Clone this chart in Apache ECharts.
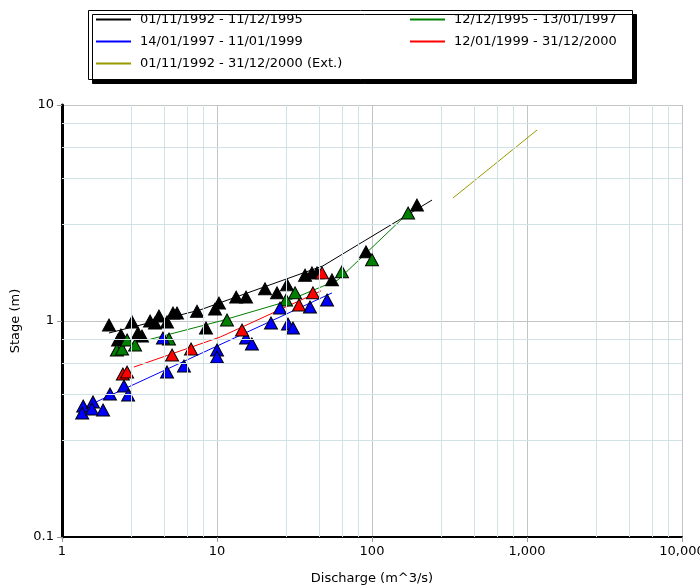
<!DOCTYPE html>
<html>
<head>
<meta charset="utf-8">
<script src="https://cdn.jsdelivr.net/npm/echarts@6/dist/echarts.min.js"></script>
<style>
  html, body { margin: 0; padding: 0; background: #fff; }
  #chart { width: 700px; height: 585px; }
</style>
</head>
<body>
<div id="chart"></div>
<script>
// period names
var periods = [
    '01/11/1992 - 11/12/1995',
    '12/12/1995 - 13/01/1997',
    '14/01/1997 - 11/01/1999',
    '12/01/1999 - 31/12/2000',
    '01/11/1992 - 31/12/2000 (Ext.)'
];

// gaugings: discharge (m^3/s) / stage (m)
var blackQ = [2.01, 2.30, 2.40, 2.83, 3.09, 3.28, 3.70, 3.98, 4.22, 4.76, 5.2, 5.52, 7.43, 8.49, 9.71, 10.3, 13.3, 15.4, 20.4, 24.4, 28.3, 37, 41, 44.2, 55.2, 91.5, 195];
var blackH = [0.958, 0.817, 0.861, 0.99, 0.88, 0.852, 1.0, 0.979, 1.055, 0.99, 1.089, 1.089, 1.11, 0.928, 1.137, 1.21, 1.29, 1.29, 1.41, 1.35, 1.47, 1.63, 1.67, 1.67, 1.55, 2.09, 3.44];
var greenQ = [2.26, 2.44, 2.63, 2.96, 4.9, 11.6, 27.9, 31.9, 64, 100, 171];
var greenH = [0.734, 0.742, 0.817, 0.774, 0.825, 1.01, 1.25, 1.35, 1.69, 1.92, 3.16];
var blueQ = [1.37, 1.35, 1.585, 1.56, 1.84, 2.04, 2.51, 2.67, 4.48, 4.76, 6.12, 10, 10, 15.4, 16.8, 22.3, 25.5, 28.7, 30.9, 39.8, 51.3];
var blueH = [0.404, 0.375, 0.422, 0.391, 0.387, 0.459, 0.5, 0.454, 0.834, 0.581, 0.619, 0.734, 0.681, 0.834, 0.783, 0.979, 1.149, 0.968, 0.928, 1.161, 1.25];
var redQ = [2.47, 2.63, 5.13, 6.8, 14.5, 33.8, 41.6, 47.6];
var redH = [0.568, 0.580, 0.696, 0.742, 0.909, 1.186, 1.35, 1.67];

// rating curves
var blackLineQ = [2.01, 7.77, 48.3, 244];
var blackLineH = [0.88, 1.125, 1.8, 3.63];
var greenLineQ = [3.19, 10.5, 27.5, 60.4, 171];
var greenLineH = [0.8, 1.0, 1.225, 1.55, 3.16];
var blueLineQ = [1.66, 55.2];
var blueLineH = [0.422, 1.349];
var redLineQ = [2.91, 10.5, 47];
var redLineH = [0.612, 0.843, 1.38];
var extLineQ = [333, 1161];
var extLineH = [3.71, 7.66];

// minor grid steps inside each decade
var minorSteps = [2.8, 4.6, 6.4, 8.2];
var xDecades = [1, 10, 100, 1000];
var yDecades = [0.1, 1];

function pairs(xs, ys) {
    return xs.map(function (x, i) { return [x, ys[i]]; });
}

var minorLines = [];
xDecades.forEach(function (d) {
    minorSteps.forEach(function (s) { minorLines.push({ xAxis: +(d * s).toPrecision(4) }); });
});
yDecades.forEach(function (d) {
    minorSteps.forEach(function (s) { minorLines.push({ yAxis: +(d * s).toPrecision(4) }); });
});

var colors = ['#000000', '#008000', '#0000ff', '#ff0000', '#999900'];
var FONT = 'DejaVu Sans';
var FS = 13;

function lineSeries(name, q, h, color) {
    return {
        name: name,
        type: 'line',
        data: pairs(q, h),
        symbol: 'none',
        lineStyle: { color: color, width: 1 },
        itemStyle: { color: color },
        z: 3,
        animation: false
    };
}

function pointSeries(name, q, h, color) {
    return {
        name: name,
        type: 'scatter',
        data: pairs(q, h),
        symbol: 'triangle',
        symbolSize: [13, 12],
        itemStyle: { color: color, borderColor: '#000', borderWidth: 1, opacity: 1 },
        z: 4,
        animation: false
    };
}

var legendText = { fontFamily: FONT, fontSize: FS, color: '#000', padding: [0, 0, 0, 4] };

var myChart = echarts.init(document.getElementById('chart'));

myChart.setOption({
    backgroundColor: '#fff',
    animation: false,
    textStyle: { fontFamily: FONT },
    graphic: [{
        type: 'rect',
        left: 88,
        top: 10,
        shape: { width: 544, height: 69 },
        style: {
            fill: '#fff',
            stroke: '#000',
            lineWidth: 1,
            shadowColor: '#000',
            shadowOffsetX: 4,
            shadowOffsetY: 4,
            shadowBlur: 0
        },
        z: 1
    }],
    legend: [{
        orient: 'vertical',
        left: 96,
        top: 13,
        padding: 0,
        itemGap: 9,
        itemWidth: 35,
        itemHeight: 2,
        icon: 'rect',
        data: [periods[0], periods[2], periods[4]],
        textStyle: legendText
    }, {
        orient: 'vertical',
        left: 410,
        top: 13,
        padding: 0,
        itemGap: 9,
        itemWidth: 35,
        itemHeight: 2,
        icon: 'rect',
        data: [periods[1], periods[3]],
        textStyle: legendText
    }],
    grid: {
        left: 62,
        right: 18,
        top: 105,
        bottom: 48,
        containLabel: false,
        outerBoundsMode: 'none'
    },
    xAxis: {
        type: 'log',
        logBase: 10,
        min: 1,
        max: 10000,
        name: 'Discharge (m^3/s)',
        nameLocation: 'middle',
        nameGap: 35,
        nameTextStyle: { fontFamily: FONT, fontSize: FS, color: '#000' },
        axisLine: { onZero: false, lineStyle: { color: '#000', width: 2 } },
        axisTick: { show: true, length: 5, lineStyle: { color: '#999' } },
        axisLabel: {
            fontFamily: FONT, fontSize: FS, color: '#000', margin: 8,
            formatter: function (v) { return Math.round(v).toLocaleString('en-US'); }
        },
        splitLine: { show: true, lineStyle: { color: '#c4c4c4', width: 1 } }
    },
    yAxis: {
        type: 'log',
        logBase: 10,
        min: 0.1,
        max: 10,
        name: 'Stage (m)',
        nameLocation: 'middle',
        nameGap: 23,
        nameRotate: 90,
        nameTextStyle: { fontFamily: FONT, fontSize: FS, color: '#000' },
        axisLine: { onZero: false, lineStyle: { color: '#000', width: 3 } },
        axisTick: { show: true, length: 5, lineStyle: { color: '#999' } },
        axisLabel: {
            fontFamily: FONT, fontSize: FS, color: '#000', margin: 8,
            formatter: function (v) { return String(+v.toPrecision(3)); }
        },
        splitLine: { show: true, lineStyle: { color: '#c4c4c4', width: 1 } }
    },
    series: [
        {
            name: 'minor grid',
            type: 'scatter',
            data: [],
            z: 0,
            silent: true,
            markLine: {
                silent: true,
                symbol: 'none',
                label: { show: false },
                lineStyle: { color: '#cfe3e6', type: 'solid', width: 1 },
                animation: false,
                data: minorLines
            }
        },
        lineSeries(periods[0], blackLineQ, blackLineH, colors[0]),
        lineSeries(periods[1], greenLineQ, greenLineH, colors[1]),
        lineSeries(periods[2], blueLineQ, blueLineH, colors[2]),
        lineSeries(periods[3], redLineQ, redLineH, colors[3]),
        lineSeries(periods[4], extLineQ, extLineH, colors[4]),
        pointSeries('pts1', blackQ, blackH, colors[0]),
        pointSeries('pts2', greenQ, greenH, colors[1]),
        pointSeries('pts3', blueQ, blueH, colors[2]),
        pointSeries('pts4', redQ, redH, colors[3])
    ]
});
</script>
</body>
</html>
